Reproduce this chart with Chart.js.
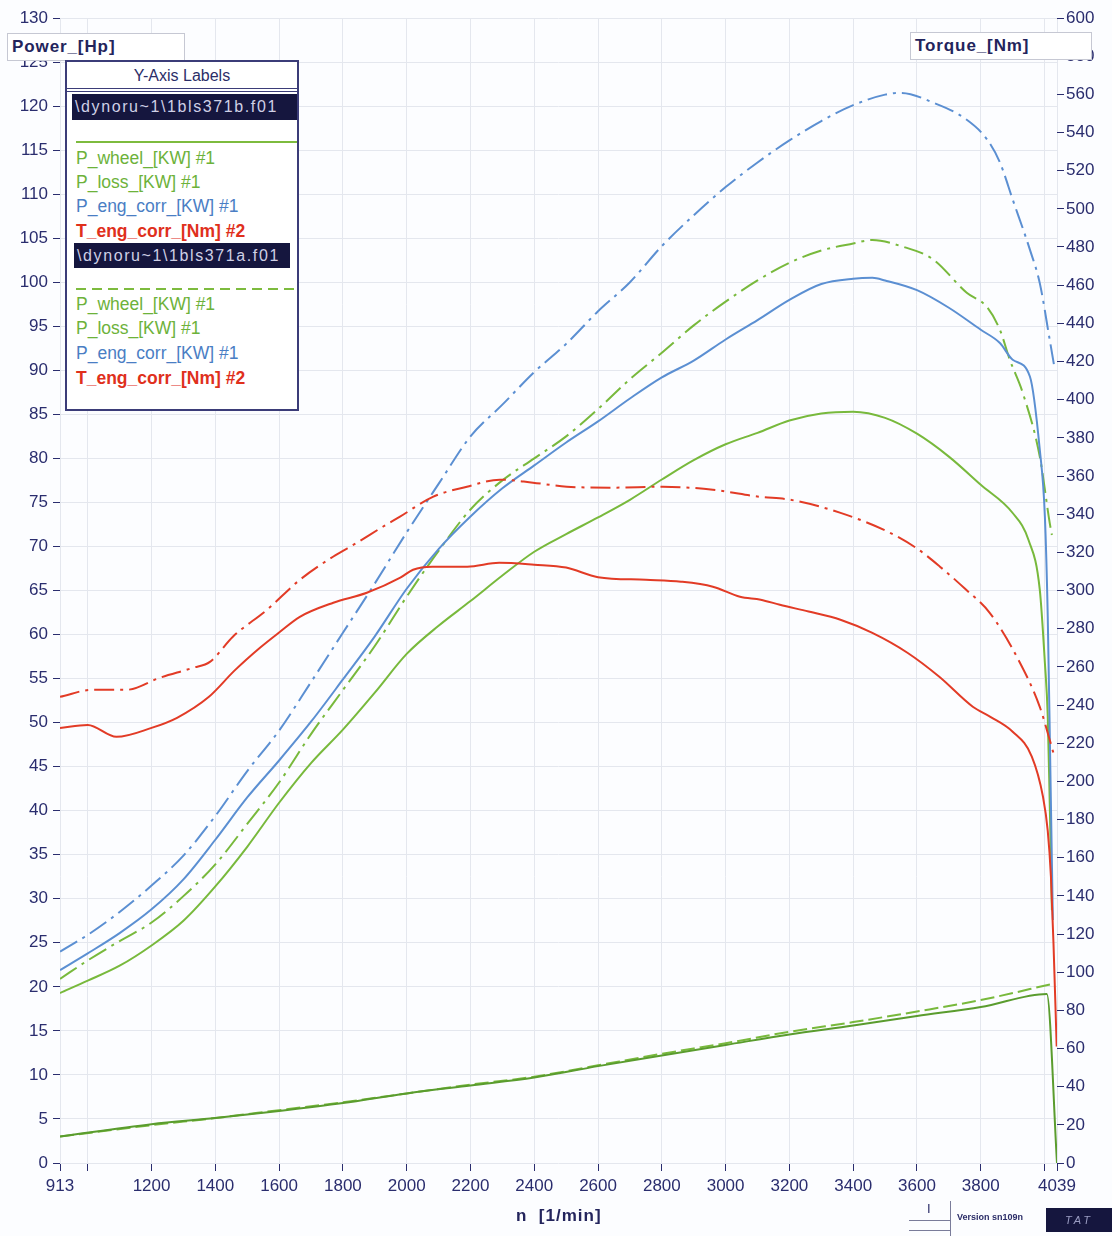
<!DOCTYPE html>
<html>
<head>
<meta charset="utf-8">
<title>Dyno run 1bls371a / 1bls371b</title>
<script src="https://cdn.jsdelivr.net/npm/chart.js@4.4.1/dist/chart.umd.min.js"></script>
<style>
  html, body { margin: 0; padding: 0; background: #fcfdff; }
  #page { position: relative; width: 1112px; height: 1236px; overflow: hidden; font-family: "Liberation Sans", Arial, sans-serif; }
  #dyno { position: absolute; left: 0; top: 0; }
  .axisBox { position: absolute; background: #fff; border: 1px solid #c6c8d3; box-sizing: border-box; color: #23245c;
             font-weight: bold; font-size: 17px; letter-spacing: 0.9px; line-height: 25px; padding-left: 4px; }
  #legend { position: absolute; left: 65px; top: 60px; width: 234px; height: 351px; border: 2px solid #3b3c78; background: #fff; box-sizing: border-box; }
  #legend div { position: absolute; white-space: nowrap; }
  .lgTitle { left: 0; top: 2px; width: 100%; text-align: center; font-size: 16px; line-height: 24px; color: #2b2d68; }
  .lgRule { left: 0; top: 26px; width: 100%; height: 2px; border-top: 1px solid #3b3c78; border-bottom: 1px solid #3b3c78; }
  .lgFile { height: 26px; background: #15163e; color: #cfd0e6; font-size: 16px; letter-spacing: 1.6px; line-height: 26px; padding-left: 3px; box-sizing: border-box; }
  .lgItem { left: 9px; font-size: 17.5px; line-height: 24px; }
  .g { color: #6db23a; }
  .b { color: #4a7ec4; }
  .r { color: #e0301c; font-weight: bold; }
  #xTitle { position: absolute; left: 516px; top: 1206px; font-weight: bold; font-size: 17px; letter-spacing: 1px; color: #23245c; white-space: pre; }
  #verText { position: absolute; left: 957px; top: 1212px; font-size: 9px; font-weight: bold; color: #2b2d68; }
  #tat { position: absolute; left: 1046px; top: 1208px; width: 66px; height: 24px; background: #15163e; color: #9a9cc2;
         font-style: italic; font-size: 11px; line-height: 24px; text-align: center; letter-spacing: 3px; }
  #sbox { position: absolute; left: 909px; top: 1201px; width: 41px; height: 35px; border-right: 1px solid #7a7c9a; }
  #sbox .l1 { position: absolute; left: 0; top: 19px; width: 41px; border-top: 1px solid #7a7c9a; }
  #sbox .l2 { position: absolute; left: 0; top: 29px; width: 41px; border-top: 1px solid #7a7c9a; }
  #sbox .t { position: absolute; left: 18px; top: 0; font-size: 13px; color: #2b2d68; }
</style>
</head>
<body>
<div id="page">
  <canvas id="dyno" width="1112" height="1236"></canvas>

  <div class="axisBox" style="left:7px; top:33px; width:178px; height:28px;">Power_[Hp]</div>
  <div class="axisBox" style="left:910px; top:32px; width:182px; height:28px;">Torque_[Nm]</div>

  <div id="legend">
    <div class="lgTitle">Y-Axis Labels</div>
    <div class="lgRule"></div>
    <div class="lgFile" style="left:5px; top:32px; width:225px;">\dynoru~1\1bls371b.f01</div>
    <div style="left:9px; top:79px; width:221px; height:2px; background:#7dbb3e;"></div>
    <div class="lgItem g" style="top:84px;">P_wheel_[KW] #1</div>
    <div class="lgItem g" style="top:108px;">P_loss_[KW] #1</div>
    <div class="lgItem b" style="top:132px;">P_eng_corr_[KW] #1</div>
    <div class="lgItem r" style="top:157px;">T_eng_corr_[Nm] #2</div>
    <div class="lgFile" style="left:7px; top:181px; width:216px; height:25px;">\dynoru~1\1bls371a.f01</div>
    <div style="left:9px; top:226px; width:221px; height:2px; background:repeating-linear-gradient(to right, #7dbb3e 0 10px, transparent 10px 16px);"></div>
    <div class="lgItem g" style="top:230px;">P_wheel_[KW] #1</div>
    <div class="lgItem g" style="top:254px;">P_loss_[KW] #1</div>
    <div class="lgItem b" style="top:279px;">P_eng_corr_[KW] #1</div>
    <div class="lgItem r" style="top:304px;">T_eng_corr_[Nm] #2</div>
  </div>

  <div id="xTitle">n  [1/min]</div>
  <div id="sbox"><div class="t">I</div><div class="l1"></div><div class="l2"></div></div>
  <div id="verText">Version sn109n</div>
  <div id="tat">TAT</div>
</div>

<script>
// x axis ticks (engine speed, 1/min)
var xTickValues = [913, 1000, 1200, 1400, 1600, 1800, 2000, 2200, 2400, 2600, 2800, 3000, 3200, 3400, 3600, 3800, 4000, 4039];
var xTickLabels = ['913', '', '1200', '1400', '1600', '1800', '2000', '2200', '2400', '2600', '2800', '3000', '3200', '3400', '3600', '3800', '', '4039'];

// run b (solid lines)
var wheelB_rpm = [913,1000,1100,1200,1300,1400,1500,1600,1700,1800,1900,2000,2100,2200,2300,2400,2500,2600,2700,2800,2900,3000,3100,3200,3300,3400,3500,3600,3700,3800,3900,3950,3985,4001,4010,4016,4023];
var wheelB_hp  = [19.3,20.7,22.4,24.7,27.5,31.4,35.9,40.9,45.4,49.2,53.4,57.8,61.0,63.8,66.7,69.4,71.4,73.3,75.3,77.6,79.8,81.6,82.9,84.3,85.1,85.3,84.6,82.8,80.2,77.0,73.8,70.7,65.1,56.8,50.7,41.2,28.7];

var lossB_rpm = [913,1200,1400,1600,1800,2000,2200,2400,2600,2800,3000,3200,3400,3600,3800,4007,4039];
var lossB_hp  = [3.0,4.4,5.1,5.9,6.8,7.9,8.8,9.7,11.0,12.2,13.4,14.6,15.6,16.7,17.7,19.2,0];

var engB_rpm = [913,1000,1100,1200,1300,1400,1500,1600,1700,1800,1900,2000,2100,2200,2300,2400,2500,2600,2700,2800,2900,3000,3100,3200,3300,3400,3460,3500,3600,3700,3800,3860,3900,3954,3985,4001,4010,4018,4026];
var engB_hp  = [21.9,23.8,26.1,28.8,32.2,36.7,41.5,45.7,50.1,54.9,59.8,65.2,69.7,73.4,76.6,79.2,81.8,84.2,86.8,89.2,91.1,93.5,95.7,98.0,99.8,100.4,100.5,100.2,99.1,97.1,94.6,93.1,91.2,89.3,81.0,73.4,62,45,27.6];

var torqueB_rpm = [913,1000,1090,1200,1280,1380,1460,1540,1600,1665,1770,1875,1980,2020,2080,2190,2290,2400,2500,2600,2750,2860,2960,3045,3110,3170,3260,3360,3460,3570,3670,3775,3830,3900,3960,3995,4010,4020,4028,4038];
var torqueB_nm  = [228,229.5,223.3,228,233.3,244.3,258,270,278,286.2,293.6,298.8,306.7,310.9,312.5,312.5,314.5,313.5,312,307,305.6,304.6,302,296.7,295.2,292.5,289,284.7,277.8,267.4,254.8,239.1,233.8,226,213,192,174,150,115,61];

// run a (dashed lines)
var wheelA_rpm = [913,1000,1100,1200,1300,1400,1500,1600,1700,1800,1900,2000,2100,2200,2300,2400,2500,2600,2700,2800,2900,3000,3100,3200,3300,3400,3460,3550,3650,3756,3819,3860,3891,3932,3985,4016,4023];
var wheelA_hp  = [20.9,23.0,25.2,27.3,30.3,33.9,38.5,43.2,48.7,53.7,58.7,64.3,69.5,74.2,77.5,80.0,82.5,85.6,89.0,92.0,95.1,97.8,100.2,102.2,103.6,104.4,104.8,104.1,102.6,98.8,97.2,94.6,91.2,87.4,80.2,72.7,71.3];

var lossA_rpm = [913,1200,1400,1600,1800,2000,2200,2400,2600,2800,3000,3200,3400,3600,3800,4032];
var lossA_hp  = [3.0,4.3,5.1,6.0,6.9,7.9,8.9,9.8,11.1,12.4,13.6,14.9,16.0,17.2,18.5,20.4];

var engA_rpm = [913,1000,1100,1200,1300,1400,1500,1600,1700,1800,1900,2000,2100,2200,2300,2400,2500,2600,2700,2800,2900,3000,3100,3200,3300,3400,3500,3550,3650,3750,3820,3860,3900,3954,3985,4016,4032];
var engA_hp  = [24.0,25.9,28.5,31.5,34.9,39.4,44.5,49.1,54.6,60.2,65.8,71.6,77.1,82.5,86.1,89.8,93.0,96.7,100.0,104.1,107.6,110.8,113.6,116.1,118.3,120.1,121.3,121.5,120.4,118.6,116.2,113.6,109.4,103.7,99.9,93.5,90.1];

var torqueA_rpm = [913,1016,1123,1226,1330,1383,1455,1562,1665,1769,1844,1925,1979,2082,2189,2292,2396,2502,2647,2803,2960,3107,3201,3358,3515,3600,3672,3750,3828,3913,3985,4016,4032];
var torqueA_nm  = [244.3,248,248,254.3,259.5,262.6,275.8,289.9,305.6,317.7,325,333.4,338.7,349.1,354.4,358.1,356.5,354.4,353.9,354.4,352.8,349.1,347.6,340.8,330.3,322,312.5,301,288.3,265.3,239,221.8,212.3];

var GREEN = '#78b93c', GREEN_DK = '#5a9c2e', BLUE = '#5b8fd2', RED = '#e23b26';
var DASHDOT = [20, 6, 3, 6];
var tickFont = { family: 'Liberation Sans', size: 17 };
var INK = '#2a2d6e';

function series(rpm, vals, color, dash, axis) {
	return {
		data: rpm.map(function(x, i){ return { x: x, y: vals[i] }; }),
		borderColor: color,
		borderDash: dash,
		borderWidth: 2,
		yAxisID: axis,
		pointRadius: 0,
		fill: false,
		cubicInterpolationMode: 'monotone'
	};
}

var ctx = document.getElementById('dyno').getContext('2d');
var dynoChart = new Chart(ctx, {
	type: 'line',
	data: {
		datasets: [
			series(torqueB_rpm, torqueB_nm, RED, [], 'yT'),
			series(torqueA_rpm, torqueA_nm, RED, DASHDOT, 'yT'),
			series(engB_rpm, engB_hp, BLUE, [], 'yP'),
			series(engA_rpm, engA_hp, BLUE, DASHDOT, 'yP'),
			series(wheelB_rpm, wheelB_hp, GREEN, [], 'yP'),
			series(wheelA_rpm, wheelA_hp, GREEN, DASHDOT, 'yP'),
			series(lossB_rpm, lossB_hp, GREEN_DK, [], 'yP'),
			series(lossA_rpm, lossA_hp, GREEN, [14, 5], 'yP')
		]
	},
	options: {
		responsive: false,
		animation: false,
		layout: { padding: { top: 18, right: 0, bottom: 0, left: 0 } },
		plugins: { legend: { display: false }, tooltip: { enabled: false } },
		scales: {
			x: {
				type: 'linear',
				min: 913,
				max: 4039,
				afterBuildTicks: function(scale){
					scale.ticks = xTickValues.map(function(v){ return { value: v }; });
				},
				afterFit: function(scale){ scale.height = 73; },
				ticks: {
					autoSkip: false, maxRotation: 0, padding: 5,
					font: tickFont, color: INK,
					callback: function(v, i){ return xTickLabels[i]; }
				},
				grid: { color: '#e4e7ee', tickColor: INK, tickLength: 8 },
				border: { display: false }
			},
			yP: {
				position: 'left',
				min: 0,
				max: 130,
				afterFit: function(scale){ scale.width = 60; },
				ticks: { stepSize: 5, padding: 5, font: tickFont, color: INK },
				grid: { color: '#e4e7ee', tickColor: INK, tickLength: 7 },
				border: { display: false }
			},
			yT: {
				position: 'right',
				min: 0,
				max: 600,
				afterFit: function(scale){ scale.width = 55; },
				ticks: { stepSize: 20, padding: 2, font: tickFont, color: INK },
				grid: { drawOnChartArea: false, tickColor: INK, tickLength: 7 },
				border: { display: false }
			}
		}
	}
});
</script>
</body>
</html>
